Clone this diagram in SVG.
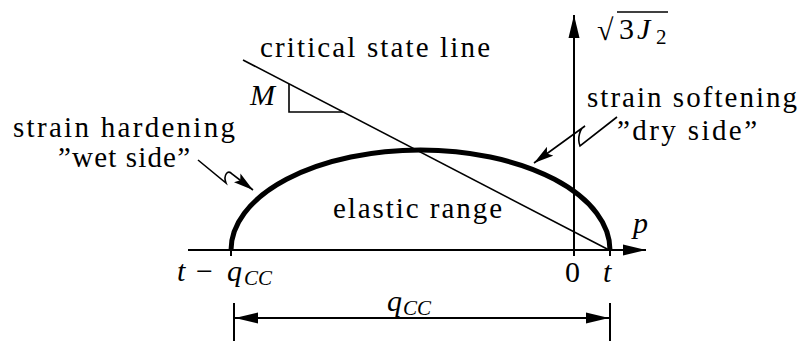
<svg xmlns="http://www.w3.org/2000/svg" width="803" height="341" viewBox="0 0 803 341">
<style>
text{font-family:"Times New Roman",Times,"Liberation Serif","DejaVu Serif",serif;fill:#000}
.t{font-size:29px}
.m{font-size:30px;font-style:italic}
.r{font-size:30px}
.s{font-size:21px;font-style:italic}
.s2{font-size:21px}
.ax{stroke:#000;stroke-width:2;fill:none}
.thin{stroke:#000;stroke-width:1.6;fill:none}
</style>
<defs>
<marker id="ah" markerUnits="userSpaceOnUse" markerWidth="24" markerHeight="12" refX="23" refY="6" orient="auto-start-reverse" viewBox="0 0 24 12">
<path d="M0,0.5 L23,6 L0,11.5 z" fill="#000"/>
</marker>
<marker id="ah2" markerUnits="userSpaceOnUse" markerWidth="21" markerHeight="12" refX="20" refY="6" orient="auto" viewBox="0 0 21 12">
<path d="M0,0.5 L20,6 L0,11.5 L4,6 z" fill="#000"/>
</marker>
</defs>
<rect width="803" height="341" fill="#fff"/>

<g id="connectors">
<line id="p-axis" class="ax" x1="188" y1="250" x2="646" y2="250" marker-end="url(#ah)"/>
<line id="j-axis" class="ax" x1="574" y1="256" x2="574" y2="15" marker-end="url(#ah)"/>
<line id="csl" class="thin" x1="243" y1="60" x2="611" y2="251"/>
<path id="slope" class="thin" d="M289,84 V112 H343"/>
<line class="ax" x1="231" y1="250" x2="231" y2="256"/>
<line class="ax" x1="610" y1="250" x2="610" y2="256"/>
<line id="dim" class="ax" x1="235" y1="318" x2="609" y2="318" marker-start="url(#ah)" marker-end="url(#ah)"/>
<line class="ax" x1="234" y1="303" x2="234" y2="341"/>
<line class="ax" x1="610" y1="303" x2="610" y2="341"/>
<path id="wet-arrow" class="thin" d="M198,160 L226,183 C223,175 228,169 232,174 L253,190" marker-end="url(#ah2)"/>
<path id="dry-arrow" class="thin" d="M617,117 L580,146 C577,138 580,128 585,126 L534,163" marker-end="url(#ah2)"/>
</g>

<g id="yield-surface">
<path d="M231,250 A189.5,100 0 0 1 610,250" fill="none" stroke="#000" stroke-width="5"/>
</g>

<g id="label-csl"><text class="t" x="260" y="57" textLength="230" lengthAdjust="spacing">critical state line</text></g>
<g id="label-M"><text class="m" x="250" y="105">M</text></g>
<g id="label-hardening">
<text class="t" x="13" y="137" textLength="222" lengthAdjust="spacing">strain hardening</text>
<text class="t" x="58" y="167" textLength="132" lengthAdjust="spacing">”wet side”</text>
</g>
<g id="label-softening">
<text class="t" x="587" y="107" textLength="210" lengthAdjust="spacing">strain softening</text>
<text class="t" x="617" y="140" textLength="140" lengthAdjust="spacing">”dry side”</text>
</g>
<g id="label-elastic"><text class="t" x="333" y="218" textLength="169" lengthAdjust="spacing">elastic range</text></g>
<g id="label-J2">
<text class="r" x="597" y="40" font-size="36">√</text>
<line x1="617" y1="12" x2="668" y2="12" stroke="#000" stroke-width="1.5"/>
<text class="r" x="619" y="39">3</text>
<text class="m" x="637" y="39">J</text>
<text class="s2" x="656" y="44">2</text>
</g>
<g id="label-p"><text class="m" x="633" y="233">p</text></g>
<g id="label-0"><text class="r" x="565" y="282">0</text></g>
<g id="label-t"><text class="m" x="603" y="282">t</text></g>
<g id="label-tq">
<text class="m" x="177" y="281">t</text>
<text class="r" x="196" y="281">−</text>
<text class="m" x="227" y="281">q</text>
<text class="s" x="244" y="285">CC</text>
</g>
<g id="label-qcc">
<text class="m" x="387" y="311">q</text>
<text class="s" x="403" y="315">CC</text>
</g>
</svg>
